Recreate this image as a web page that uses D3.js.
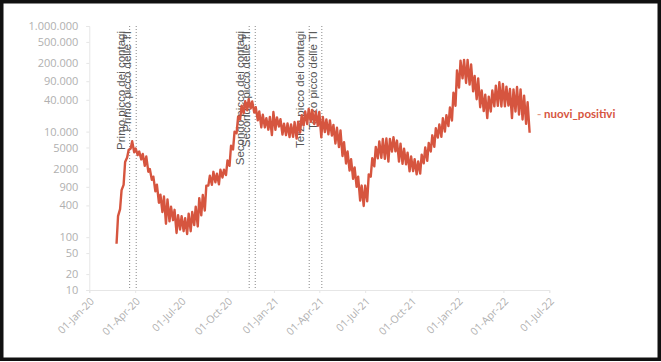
<!DOCTYPE html>
<html>
<head>
<meta charset="utf-8">
<script src="https://cdn.jsdelivr.net/npm/d3@7"></script>
<style>
  body { margin: 0; background: #fff; }
  svg { display: block; }
</style>
</head>
<body>
<svg width="661" height="362"></svg>
<script>
// nuovi_positivi, one low (monday) and one high (thursday) per week
let startDate = "2020-02-24"
let weeklyLow = [
  75, 340, 980, 3230, 4790, 4050, 3600, 2970, 2250, 1740,
  1220, 740, 450, 300, 180, 200, 210, 120, 140, 130,
  115, 130, 170, 160, 260, 320, 950, 980, 1100, 1000,
  1350, 1500, 2250, 4600, 9300, 17000, 22250, 25270, 27350, 22950,
  16380, 12000, 12000, 10870, 8580, 10800, 12500, 8800, 8560, 7900,
  7970, 7350, 9630, 13100, 13900, 15270, 13850, 12900, 7770, 9790,
  8860, 8400, 5950, 5080, 3450, 2490, 1820, 1270, 900, 495,
  390, 480, 1400, 2200, 3120, 3190, 3050, 2700, 4170, 4250,
  2700, 2450, 2400, 1770, 1780, 1550, 1600, 2510, 2800, 4200,
  5150, 7700, 7975, 10000, 12700, 16200, 30800, 68000, 101700, 83400,
  77700, 57700, 41000, 29000, 24400, 18000, 24000, 30000, 30700, 29900,
  30000, 31000, 18000, 24000, 21000, 17000, 14000, 9500
]
let weeklyHigh = [
  250, 780, 2650, 4480, 6557, 4780, 4200, 3780, 3370, 1960,
  1400, 990, 640, 590, 520, 380, 330, 260, 250, 230,
  280, 300, 380, 550, 630, 950, 1460, 1730, 1600, 1900,
  1900, 2850, 5400, 10000, 19100, 31000, 37800, 40900, 37240, 29000,
  24100, 21000, 18000, 19000, 23470, 18600, 17250, 14080, 14300, 13660,
  15150, 15480, 20500, 24000, 26800, 25700, 24000, 23600, 18900, 17000,
  16230, 13400, 11800, 10550, 6300, 4200, 3000, 2100, 1400, 950,
  950, 1550, 3130, 5140, 6500, 7230, 7400, 7260, 7800, 6760,
  5920, 4750, 4000, 3400, 3000, 2730, 3650, 5000, 6100, 8500,
  11550, 13700, 17950, 20500, 28600, 54700, 144200, 220500, 228000, 228000,
  186700, 112700, 101800, 60000, 50000, 46000, 60000, 74000, 86000, 80000,
  71000, 64000, 63000, 70000, 63000, 48000, 36000
]

let peakDates = ["2020-03-21", "2020-04-03", "2020-11-13", "2020-11-25", "2021-03-12", "2021-04-06"]
let peakLabels = [
  "Primo picco dei contagi", "Primo picco delle TI",
  "Secondo picco dei contagi", "Secondo picco delle TI",
  "Terzo picco dei contagi", "Terzo picco delle TI"
]
let yTicks = [10, 20, 50, 100, 400, 900, 2000, 5000, 10000, 40000, 90000, 200000, 500000, 1000000]
let seriesName = "nuovi_positivi"

let parse = d3.timeParse("%Y-%m-%d")
let color = "#d6553f"

let svg = d3.select("svg")

svg.append("rect")
  .attr("x", 1.75).attr("y", 1.75)
  .attr("width", 657.5).attr("height", 357.5)
  .attr("fill", "#fff")
  .attr("stroke", "#111")
  .attr("stroke-width", 3.5)

let x = d3.scaleTime()
  .domain([parse("2020-01-01"), parse("2022-07-01")])
  .range([89.3, 549.3])

let y = d3.scaleLog()
  .domain([10, 1000000])
  .range([290, 26])

// build the zig-zag series
let t0 = parse(startDate)
let points = []
for (i = 0; i < weeklyLow.length; i++) {
  points.push({date: d3.timeDay.offset(t0, 7 * i), value: weeklyLow[i]})
  if (i < weeklyHigh.length) {
    points.push({date: d3.timeDay.offset(t0, 7 * i + 3), value: weeklyHigh[i]})
  }
}

function fmt(v) {
  if (v < 10000) return String(v)
  return d3.format(",")(v).replace(/,/g, ".")
}

// y axis
let yAxis = svg.append("g")
  .attr("transform", "translate(89.3,0)")
  .call(d3.axisLeft(y).tickValues(yTicks).tickFormat(fmt).tickSize(3).tickPadding(8))
yAxis.select(".domain").attr("stroke", "#e6e6e6")
yAxis.selectAll(".tick line").attr("stroke", "#e6e6e6")
yAxis.selectAll("text")
  .attr("fill", "#b0b0b0")
  .style("font-family", "Open Sans")
  .style("font-size", "11px")

// x axis
let xAxis = svg.append("g")
  .attr("transform", "translate(0,290)")
  .call(d3.axisBottom(x).ticks(d3.timeMonth.every(3)).tickFormat(d3.timeFormat("%d-%b-%y")).tickSize(3))
xAxis.select(".domain").attr("stroke", "#e6e6e6")
xAxis.selectAll(".tick line").attr("stroke", "#e6e6e6")
xAxis.selectAll("text")
  .attr("fill", "#b0b0b0")
  .style("font-family", "Open Sans")
  .style("font-size", "10.5px")
  .attr("text-anchor", "end")
  .attr("dy", null)
  .attr("y", 0)
  .attr("transform", "translate(5,12) rotate(-45)")

// peak markers
let peaks = svg.append("g")
peaks.selectAll("line")
  .data(peakDates)
  .enter()
  .append("line")
  .attr("x1", d => x(parse(d)))
  .attr("x2", d => x(parse(d)))
  .attr("y1", 26)
  .attr("y2", 290)
  .attr("stroke", "#888")
  .attr("stroke-width", 1)
  .attr("stroke-dasharray", "1,2")

// series line
let line = d3.line()
  .x(d => x(d.date))
  .y(d => y(d.value))

svg.append("path")
  .datum(points)
  .attr("fill", "none")
  .attr("stroke", color)
  .attr("stroke-width", 2.4)
  .attr("stroke-linejoin", "round")
  .attr("d", line)

peaks.selectAll("text")
  .data(peakDates)
  .enter()
  .append("text")
  .attr("transform", d => "translate(" + (x(parse(d)) - 5) + ",31) rotate(-90)")
  .attr("text-anchor", "end")
  .attr("fill", "#555")
  .style("font-family", "Liberation Sans")
  .style("font-size", "11.5px")
  .text((d, i) => peakLabels[i])

// series label at the end of the line
let label = svg.append("text")
  .attr("x", 537)
  .attr("y", y(22000))
  .attr("dy", "0.35em")
  .style("font-family", "Lato")
  .style("font-size", "11.5px")
  .style("font-weight", "bold")
label.append("tspan").attr("fill", "#e39a8c").text("- ")
label.append("tspan").attr("fill", color).text(seriesName)
</script>
</body>
</html>
